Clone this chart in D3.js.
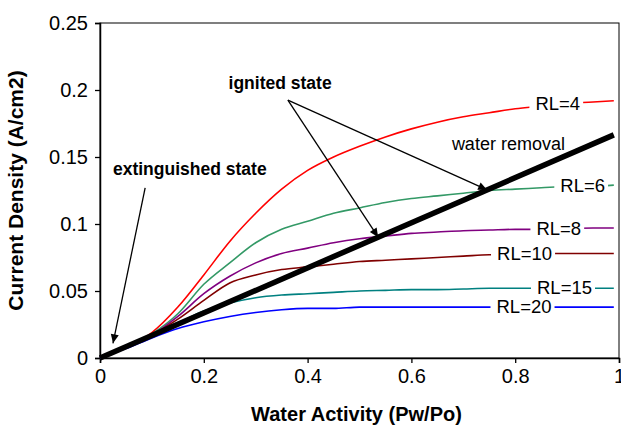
<!DOCTYPE html>
<html>
<head>
<meta charset="utf-8">
<script src="https://cdn.jsdelivr.net/npm/d3@7"></script>
<style>
body { margin: 0; background: #fff; }
text { font-family: "Liberation Sans", Arial, sans-serif; }
</style>
</head>
<body>
<div id="graph"></div>
<script>
// water activity samples
var aw = [0, 0.05, 0.1, 0.15, 0.2, 0.25, 0.3, 0.35, 0.4, 0.45, 0.5, 0.55, 0.6, 0.65, 0.7, 0.75, 0.8, 0.85, 0.9, 0.95, 0.99]

// current density for each RL
var rl4  = [0, 0.008, 0.019, 0.038, 0.062, 0.087, 0.108, 0.126, 0.140, 0.150, 0.158, 0.165, 0.171, 0.176, 0.180, 0.183, 0.186, 0.188, 0.190, 0.191, 0.192]
var rl6  = [0, 0.008, 0.018, 0.033, 0.055, 0.071, 0.086, 0.096, 0.102, 0.108, 0.112, 0.116, 0.119, 0.121, 0.123, 0.125, 0.126, 0.127, 0.128, 0.128, 0.129]
var rl8  = [0, 0.008, 0.017, 0.031, 0.048, 0.061, 0.071, 0.078, 0.082, 0.086, 0.089, 0.091, 0.093, 0.094, 0.095, 0.0955, 0.096, 0.096, 0.0965, 0.097, 0.097]
var rl10 = [0, 0.008, 0.017, 0.029, 0.043, 0.056, 0.062, 0.066, 0.068, 0.070, 0.072, 0.073, 0.074, 0.075, 0.076, 0.077, 0.077, 0.078, 0.078, 0.078, 0.078]
var rl15 = [0, 0.008, 0.017, 0.026, 0.035, 0.041, 0.045, 0.047, 0.048, 0.049, 0.050, 0.0505, 0.051, 0.051, 0.0515, 0.052, 0.052, 0.052, 0.052, 0.052, 0.052]
var rl20 = [0, 0.007, 0.015, 0.022, 0.027, 0.031, 0.034, 0.036, 0.037, 0.037, 0.038, 0.038, 0.038, 0.038, 0.038, 0.038, 0.038, 0.038, 0.038, 0.038, 0.038]

var seriesNames = ["RL=4", "RL=6", "RL=8", "RL=10", "RL=15", "RL=20"]
var seriesValues = [rl4, rl6, rl8, rl10, rl15, rl20]

// water removal operating line
var removalX = [0, 0.99]
var removalY = [0, 0.1665]

var xTicks = [0, 0.2, 0.4, 0.6, 0.8, 1]
var xTickLabels = ["0", "0.2", "0.4", "0.6", "0.8", "1"]
var yTicks = [0, 0.05, 0.1, 0.15, 0.2, 0.25]
var yTickLabels = ["0", "0.05", "0.1", "0.15", "0.2", "0.25"]

var W = 621, H = 426
var margin = {left: 100, top: 23, right: 2, bottom: 68}
var w = W - margin.left - margin.right,
    h = H - margin.top - margin.bottom

var colors = ["#ff0000", "#339966", "#800080", "#800000", "#008080", "#0000ff"]
var labelAt = [0.882, 0.93, 0.884, 0.818, 0.895, 0.817]

var svg = d3.select("#graph")
    .append("svg")
        .attr("width", W)
        .attr("height", H)

svg.append("defs").append("marker")
    .attr("id", "head")
    .attr("markerUnits", "userSpaceOnUse")
    .attr("viewBox", "0 -5 10 10")
    .attr("refX", 10)
    .attr("refY", 0)
    .attr("markerWidth", 11)
    .attr("markerHeight", 9)
    .attr("orient", "auto")
  .append("path")
    .attr("d", "M0,-4.5L10,0L0,4.5Z")
    .attr("fill", "#000")

var g = svg.append("g")
    .attr("transform", "translate(" + margin.left + "," + margin.top + ")")

var x = d3.scaleLinear().domain([0, 1]).range([0, w])
var y = d3.scaleLinear().domain([0, 0.25]).range([h, 0])

// frame (top/right)
g.append("rect")
    .attr("width", w)
    .attr("height", h)
    .attr("fill", "none")
    .attr("stroke", "#000")
    .attr("stroke-width", 1)

var xAxis = g.append("g")
    .attr("transform", "translate(0," + h + ")")
    .call(d3.axisBottom(x).tickValues(xTicks)
        .tickFormat(function(d, i) { return xTickLabels[i] })
        .tickSizeOuter(0).tickSize(5).tickPadding(6))
var yAxis = g.append("g")
    .call(d3.axisLeft(y).tickValues(yTicks)
        .tickFormat(function(d, i) { return yTickLabels[i] })
        .tickSizeOuter(0).tickSize(5).tickPadding(7))

g.selectAll(".domain").attr("stroke-width", 1.5)
g.selectAll(".tick line").attr("stroke-width", 1.3)
g.selectAll(".tick text")
    .attr("font-family", "Liberation Sans, Arial, sans-serif")
    .attr("font-size", 20)
    .attr("fill", "#000")

var line = d3.line()
    .x(function(d) { return x(d[0]) })
    .y(function(d) { return y(d[1]) })
    .curve(d3.curveMonotoneX)

seriesValues.forEach(function(vals, k) {
    g.append("path")
        .datum(aw.map(function(a, i) { return [a, vals[i]] }))
        .attr("d", line)
        .attr("fill", "none")
        .attr("stroke", colors[k])
        .attr("stroke-width", 1.6)
})

// series labels sit on their line with a white patch
function valueAt(vals, a) {
    for (var i = 0; i < aw.length - 1; i++) {
        if (a >= aw[i] && a <= aw[i + 1]) {
            var t = (a - aw[i]) / (aw[i + 1] - aw[i])
            return vals[i] + t * (vals[i + 1] - vals[i])
        }
    }
    return vals[vals.length - 1]
}

seriesNames.forEach(function(name, k) {
    var lx = x(labelAt[k]), ly = y(valueAt(seriesValues[k], labelAt[k]))
    var lab = g.append("g")
    var bg = lab.append("rect").attr("fill", "#fff")
    var t = lab.append("text")
        .attr("x", lx)
        .attr("y", ly + 6)
        .attr("text-anchor", "middle")
        .attr("font-size", 18.5)
        .text(name)
    var bb = t.node().getBBox()
    bg.attr("x", bb.x - 6).attr("y", bb.y)
      .attr("width", bb.width + 9).attr("height", bb.height)
})

// water removal line
g.append("path")
    .datum(removalX.map(function(a, i) { return [a, removalY[i]] }))
    .attr("d", d3.line().x(function(d) { return x(d[0]) }).y(function(d) { return y(d[1]) }))
    .attr("stroke", "#000")
    .attr("stroke-width", 5.5)
    .attr("fill", "none")

function onRemoval(a) { return removalY[1] / removalX[1] * a }

function arrow(x0, y0, x1, y1) {
    g.append("line")
        .attr("x1", x(x0)).attr("y1", y(y0))
        .attr("x2", x(x1)).attr("y2", y(y1))
        .attr("stroke", "#000")
        .attr("stroke-width", 1.3)
        .attr("marker-end", "url(#head)")
}

arrow(0.362, 0.1925, 0.746, onRemoval(0.746))
arrow(0.362, 0.1925, 0.536, onRemoval(0.536))
arrow(0.087, 0.127, 0.025, 0.011)

g.append("text")
    .attr("x", x(0.347)).attr("y", y(0.2007))
    .attr("text-anchor", "middle")
    .attr("font-weight", "bold")
    .attr("font-size", 17.5)
    .text("ignited state")

g.append("text")
    .attr("x", x(0.025)).attr("y", y(0.1366))
    .attr("font-weight", "bold")
    .attr("font-size", 17.5)
    .text("extinguished state")

g.append("text")
    .attr("x", x(0.678)).attr("y", y(0.155))
    .attr("font-size", 18)
    .text("water removal")

// axis titles
g.append("text")
    .attr("x", w / 2 - 3)
    .attr("y", h + 63)
    .attr("text-anchor", "middle")
    .attr("font-weight", "bold")
    .attr("font-size", 20)
    .text("Water Activity (Pw/Po)")

g.append("text")
    .attr("transform", "translate(" + (-77) + "," + (h / 2) + ") rotate(-90)")
    .attr("text-anchor", "middle")
    .attr("font-weight", "bold")
    .attr("font-size", 21)
    .text("Current Density (A/cm2)")
</script>
</body>
</html>
